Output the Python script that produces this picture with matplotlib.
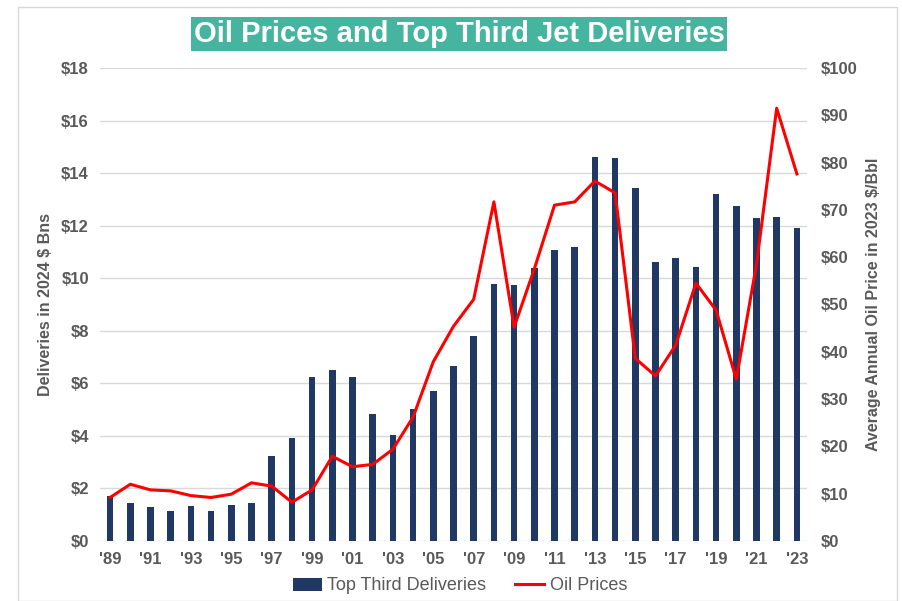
import matplotlib.pyplot as plt
import numpy as np
from matplotlib.patches import Rectangle

plt.rcParams["font.family"] = ["Liberation Sans", "DejaVu Sans"]

years = list(range(1989, 2024))
deliveries = [1.71, 1.43, 1.29, 1.14, 1.33, 1.14, 1.36, 1.46, 3.23, 3.93,
              6.24, 6.50, 6.24, 4.84, 4.03, 5.01, 5.70, 6.65, 7.79, 9.78,
              9.75, 10.38, 11.08, 11.18, 14.60, 14.56, 13.45, 10.62, 10.76, 10.44,
              13.19, 12.75, 12.28, 12.33, 11.91]
oil = [9.2, 12.0, 10.8, 10.6, 9.6, 9.2, 9.9, 12.3, 11.6, 8.2,
       10.8, 17.9, 15.7, 16.2, 19.4, 26.2, 37.9, 45.4, 51.1, 71.7,
       45.2, 57.5, 71.0, 71.7, 76.1, 73.6, 38.6, 34.9, 41.4, 54.5,
       48.8, 34.2, 58.5, 91.5, 77.6]
left_ticks = list(range(0, 19, 2))
right_ticks = list(range(0, 101, 10))

GRAY = "#595959"
NAVY = "#1F3864"

fig = plt.figure(figsize=(9.02, 6.01), dpi=100)
fig.patches.append(Rectangle((18 / 902, 0), 879 / 902, 594 / 601, transform=fig.transFigure,
                             fill=False, edgecolor="#d9d9d9", linewidth=1))

ax = fig.add_axes([100 / 902, 1 - 541 / 601, 707 / 902, 473 / 601])
x = np.arange(len(years))
ax.bar(x, deliveries, width=0.32, color=NAVY, label="Top Third Deliveries", zorder=2)
ax.set_ylim(0, 18)
ax.set_xlim(-0.5, len(years) - 0.5)
ax.set_yticks(left_ticks)
ax.set_yticklabels(["$%d" % t for t in left_ticks])
ax.set_xticks(x[::2])
ax.set_xticklabels(["'%02d" % (y % 100) for y in years[::2]])
ax.grid(axis="y", color="#d9d9d9", linewidth=1, zorder=0)
ax.set_axisbelow(True)
for s in ax.spines.values():
    s.set_visible(False)
ax.tick_params(length=0, colors=GRAY, labelsize=12, pad=8)
for lab in ax.get_xticklabels() + ax.get_yticklabels():
    lab.set_fontweight("bold")
ax.set_ylabel("Deliveries in 2024 $ Bns", color=GRAY, fontsize=11.5, fontweight="bold", labelpad=6)

ax2 = ax.twinx()
ax2.plot(x, oil, color="#FF0000", linewidth=2.2, label="Oil Prices", zorder=3)
ax2.set_ylim(0, 100)
ax2.set_yticks(right_ticks)
ax2.set_yticklabels(["$%d" % t for t in right_ticks])
for s in ax2.spines.values():
    s.set_visible(False)
ax2.tick_params(length=0, colors=GRAY, labelsize=12, pad=10)
for lab in ax2.get_yticklabels():
    lab.set_fontweight("bold")
ax2.set_ylabel("Average Annual Oil Price in 2023 $/Bbl", color=GRAY, fontsize=11.5,
               fontweight="bold", labelpad=6)

h1, l1 = ax.get_legend_handles_labels()
h2, l2 = ax2.get_legend_handles_labels()
leg = fig.legend(h1 + h2, l1 + l2, loc="center", bbox_to_anchor=(460 / 902, 1 - 586 / 601),
                 ncol=2, frameon=False, fontsize=13, handlelength=1.6, handletextpad=0.3,
                 columnspacing=1.6)
for t in leg.get_texts():
    t.set_color(GRAY)

fig.text(459 / 902, 1 - 34 / 601, "Oil Prices and Top Third Jet Deliveries",
         ha="center", va="center", color="white", fontsize=21, fontweight="bold",
         bbox=dict(boxstyle="square,pad=0.1", facecolor="#45B5A0", edgecolor="none"))

fig.savefig("out.png", dpi=100)
